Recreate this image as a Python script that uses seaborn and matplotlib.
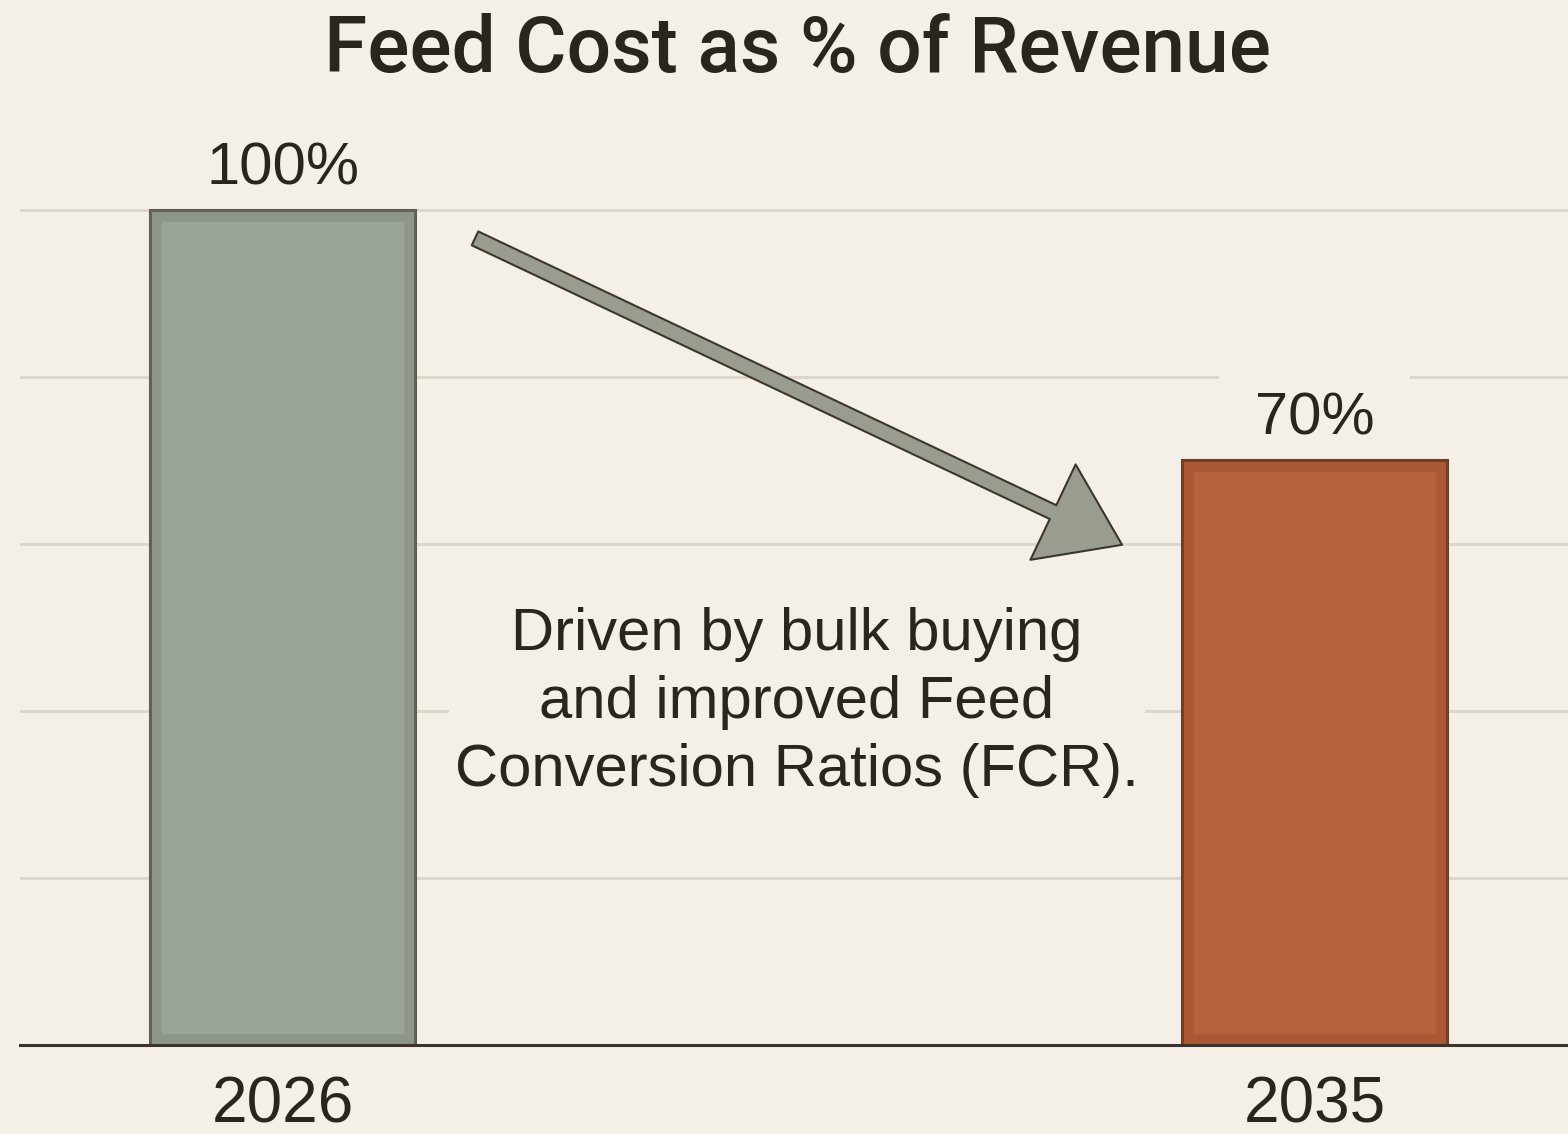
import matplotlib
matplotlib.use("Agg")
import matplotlib.pyplot as plt
from matplotlib.patches import Rectangle
import seaborn as sns
import pandas as pd

# ---- data ----
years = ["2026", "2035"]
values = [100, 70]
value_labels = ["100%", "70%"]
title = "Feed Cost as % of Revenue"
note = "Driven by bulk buying\nand improved Feed\nConversion Ratios (FCR)."

# ---- style ----
BG = "#f4f0e7"
TXT = "#2a251f"
GRID = "#dbd6cb"
fills = ["#9aa597", "#b5613b"]
inner = ["#7f877a", "#9e4f2c"]
edges = ["#4a463d", "#5a3320"]

sns.set_theme(style="white")
plt.rcParams["font.family"] = ["Liberation Sans", "DejaVu Sans"]

df = pd.DataFrame({"year": years, "value": values})

fig = plt.figure(figsize=(15.68, 11.34), dpi=100, facecolor=BG)
ax = fig.add_axes([20 / 1568, 0.0785, 1548 / 1568, 0.7437])
ax.set_facecolor(BG)

sns.barplot(data=df, x="year", y="value", hue="year", palette=fills,
            width=0.257, legend=False, ax=ax, zorder=3, saturation=1)

for p, ec, ic in zip(ax.patches, edges, inner):
    p.set_edgecolor(ec)
    p.set_linewidth(2.2)
    # inner darker band to imitate the painted texture
    x0, y0 = p.get_x(), p.get_y()
    w, h = p.get_width(), p.get_height()
    dx = w * 0.04
    dy = 100 * 0.012
    ax.add_patch(Rectangle((x0 + dx / 2, y0 + dy / 2), w - dx, h - dy,
                           fill=False, edgecolor=ic, linewidth=9,
                           alpha=0.45, zorder=3.5))

ax.set_xlim(-0.2544, 1.2456)
ax.set_ylim(0, 101)
ax.set_yticks([20, 40, 60, 80, 100])
ax.set_yticklabels([])
ax.yaxis.grid(True, color=GRID, linewidth=2)
ax.xaxis.grid(False)
ax.set_axisbelow(True)
ax.tick_params(axis="y", length=0)
ax.tick_params(axis="x", length=0, pad=22, labelsize=46, labelcolor=TXT)
ax.set_xlabel("")
ax.set_ylabel("")
for s in ["top", "right", "left"]:
    ax.spines[s].set_visible(False)
ax.spines["bottom"].set_color("#3a342c")
ax.spines["bottom"].set_linewidth(2.2)
ax.spines["bottom"].set_zorder(4)

# value labels
labels = ax.bar_label(ax.containers[0], labels=[value_labels[0]], padding=10,
                      fontsize=43, color=TXT)
labels2 = ax.bar_label(ax.containers[1], labels=[value_labels[1]], padding=10,
                       fontsize=43, color=TXT)
for t in labels2:
    t.set_zorder(2)
    t.set_bbox(dict(boxstyle="square,pad=0.6", facecolor=BG, edgecolor="none"))

# title
fig.text(797 / 1568, 1 - 72 / 1134, title, ha="center", va="baseline",
         fontsize=56.5, color=TXT, family=["Roboto", "Liberation Sans", "DejaVu Sans"],
         fontweight="medium")

# trend arrow from the first bar towards the second
ax.annotate("", xy=(0.8135, values[1] - 10.1), xytext=(0.1865, values[0] - 3.4),
            arrowprops=dict(arrowstyle="simple,head_length=2.75,head_width=3.8,tail_width=0.55",
                            mutation_scale=20, facecolor="#9a9c90",
                            edgecolor="#3a372f", linewidth=1.5,
                            shrinkA=0, shrinkB=0),
            zorder=5)

ax.text(0.4985, 41.0, note, ha="center", va="center", fontsize=43,
        color=TXT, linespacing=1.31, zorder=6,
        bbox=dict(boxstyle="square,pad=0.1", facecolor=BG, edgecolor="none"))

fig.savefig("out.png", dpi=100, facecolor=BG)
